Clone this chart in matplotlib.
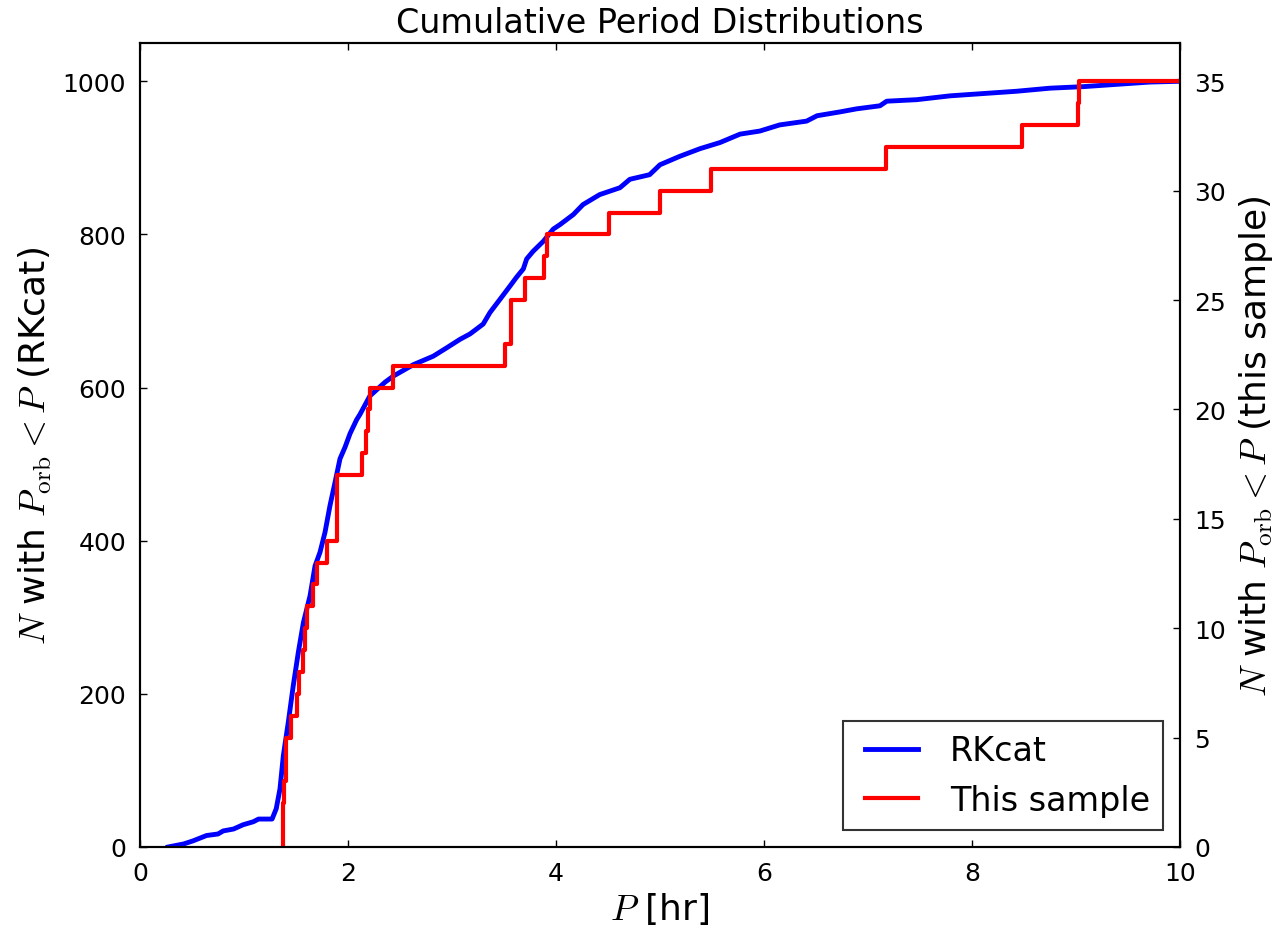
import numpy as np
import matplotlib
matplotlib.use("Agg")
import matplotlib.pyplot as plt

# RKcat cumulative distribution
rk_period = [0.27, 0.42, 0.51, 0.64, 0.75, 0.80, 0.90, 0.99, 1.09, 1.14, 1.27,
             1.31, 1.346, 1.378, 1.426, 1.474, 1.522, 1.571, 1.635, 1.683, 1.731,
             1.779, 1.827, 1.875, 1.923, 1.971, 2.02, 2.083, 2.115, 2.21, 2.356,
             2.436, 2.63, 2.82, 2.95, 3.077, 3.173, 3.30, 3.365, 3.46, 3.56, 3.62,
             3.686, 3.718, 3.78, 3.878, 3.974, 4.04, 4.167, 4.26, 4.42, 4.615, 4.71,
             4.90, 5.0, 5.19, 5.385, 5.577, 5.77, 5.96, 6.15, 6.41, 6.51, 6.73,
             6.89, 7.115, 7.18, 7.47, 7.79, 8.11, 8.43, 8.75, 9.07, 9.39, 9.71, 10.0]
rk_count = [0, 4, 8, 15, 17, 21, 23.5, 29, 33, 36.5, 36.5,
            50, 76, 119, 163, 211, 254, 293, 328, 367, 385,
            411, 446, 476, 507, 522, 540, 558, 565, 589, 607,
            615, 630, 641, 652, 663, 670, 683, 698, 715, 733, 744,
            755, 768, 778, 791, 807, 813, 826, 839, 852, 861, 872,
            878, 891, 902, 912, 920, 931, 935, 943, 948, 955, 960,
            964, 968, 974, 976, 981, 984, 987, 991, 993, 996, 999, 1000]

# orbital periods of this sample [hr], sorted
sample_period = [1.372, 1.372, 1.38, 1.404, 1.404, 1.449, 1.513, 1.532, 1.564,
                 1.583, 1.603, 1.667, 1.705, 1.801, 1.897, 1.897, 1.897, 2.131,
                 2.173, 2.196, 2.212, 2.436, 3.51, 3.564, 3.564, 3.702, 3.885,
                 3.91, 4.506, 5.004, 5.494, 7.174, 8.485, 9.02, 9.03]

plt.rcParams['mathtext.fontset'] = 'cm'
plt.rcParams['font.family'] = 'DejaVu Sans'

fig = plt.figure(figsize=(12.8, 9.37), dpi=100)
ax1 = fig.add_axes([140/1280, 1-848/937, 1040/1280, 804/937])
ax2 = ax1.twinx()

l1, = ax1.plot(rk_period, rk_count, color='blue', lw=3.5, label='RKcat')

n = len(sample_period)
xs = [sample_period[0]] + sample_period + [10.0]
ys = [0] + list(range(1, n + 1)) + [n]
l2, = ax2.plot(xs, ys, color='red', lw=3, drawstyle='steps-post', label='This sample')

ax1.set_xlim(0, 10)
ax1.set_ylim(0, 1050)
ax2.set_ylim(0, 36.75)
ax1.set_xticks([0, 2, 4, 6, 8, 10])
ax1.set_yticks([0, 200, 400, 600, 800, 1000])
ax2.set_yticks([0, 5, 10, 15, 20, 25, 30, 35])

for ax in (ax1, ax2):
    ax.tick_params(direction='in', length=5, width=1, labelsize=18, pad=10)
    for s in ax.spines.values():
        s.set_linewidth(1.5)
ax1.tick_params(axis='x', top=True)

ax1.set_xlabel(r'$P$ [hr]', fontsize=26, labelpad=4)
ax1.set_ylabel(r'$N$ with $P_{\rm orb} < P$ (RKcat)', fontsize=26, labelpad=6)
ax2.set_ylabel(r'$N$ with $P_{\rm orb} < P$ (this sample)', fontsize=26, labelpad=8)
ax1.set_title('Cumulative Period Distributions', fontsize=24, pad=8)

leg = ax2.legend([l1, l2], ['RKcat', 'This sample'], loc='lower right',
                 fontsize=24, fancybox=False, handlelength=2.0,
                 borderpad=0.4, labelspacing=0.5, handletextpad=0.8,
                 borderaxespad=0.5)
leg.get_frame().set_edgecolor('black')
leg.get_frame().set_linewidth(1.5)
# old-style legend handles sit a little inside their box
for h in leg.get_lines():
    x = np.asarray(h.get_xdata(), dtype=float)
    y = np.asarray(h.get_ydata(), dtype=float)
    h.set_data(np.linspace(x.min() + 6, x.max() - 4, len(y)), y)

fig.savefig('out.png', dpi=100, facecolor='white')
